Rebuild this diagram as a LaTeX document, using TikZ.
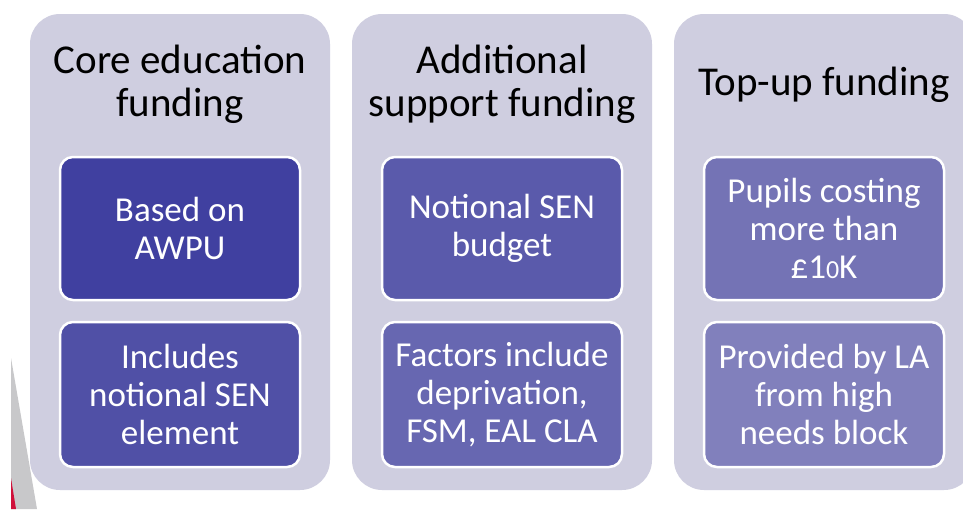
\documentclass[tikz,border=0pt]{standalone}
\usepackage{fontspec}
\setmainfont{Carlito}
\definecolor{panelfill}{HTML}{CFCEE0}
\definecolor{sliver}{HTML}{C8C8CA}
\definecolor{accent}{HTML}{D0103A}
\definecolor{boxA1}{HTML}{4040A0}
\definecolor{boxA2}{HTML}{5050A6}
\definecolor{boxB1}{HTML}{5A5AAB}
\definecolor{boxB2}{HTML}{6767B1}
\definecolor{boxC1}{HTML}{7473B5}
\definecolor{boxC2}{HTML}{8180BC}
\newcommand{\smallzero}{{\fontsize{26}{26}\selectfont 0}}
\tikzset{
    panel/.style={fill=panelfill, rounded corners=30pt, minimum width=300pt,
        minimum height=476pt, inner sep=0pt},
    heading/.style={align=center, text=black,
        font=\fontsize{41}{43}\selectfont},
    itembox/.style={draw=white, line width=2.5pt, rounded corners=13pt,
        minimum width=240pt, inner sep=0pt, align=center,
        text=white, font=\fontsize{35}{38}\selectfont}
}
\begin{document}
\begin{tikzpicture}[x=1pt, y=-1pt]
        \useasboundingbox (0,0) rectangle (963,509);
        \fill[white] (0,0) rectangle (963,509);
        % slide decoration on the left
        \fill[sliver] (11,358) -- (37,509) -- (11,509) -- cycle;
        \fill[accent] (11,478) -- (16,509) -- (11,509) -- cycle;
        \foreach \c/\x/\hy/\head/\ta/\tb in {
            A/180/84/{Core education\\funding}/{Based on\\AWPU}/{Includes\\notional SEN\\element},
            B/502/84/{Additional\\support funding}/{Notional SEN\\budget}/{Factors include\\deprivation,\\FSM, EAL CLA},
            C/824/85/{Top-up funding}/{Pupils costing\\more than\\£1\smallzero K}/{Provided by LA\\from high\\needs block}} {
            \node[panel] (col\c) at (\x, 252) {};
            \node[heading] (head\c) at (\x, \hy) {\head};
            \node[itembox, fill=box\c1, minimum height=143pt] (top\c) at (\x, 228.5) {\ta};
            \node[itembox, fill=box\c2, minimum height=145pt] (bot\c) at (\x, 394.5) {\tb};
        }
    \end{tikzpicture}
\end{document}
